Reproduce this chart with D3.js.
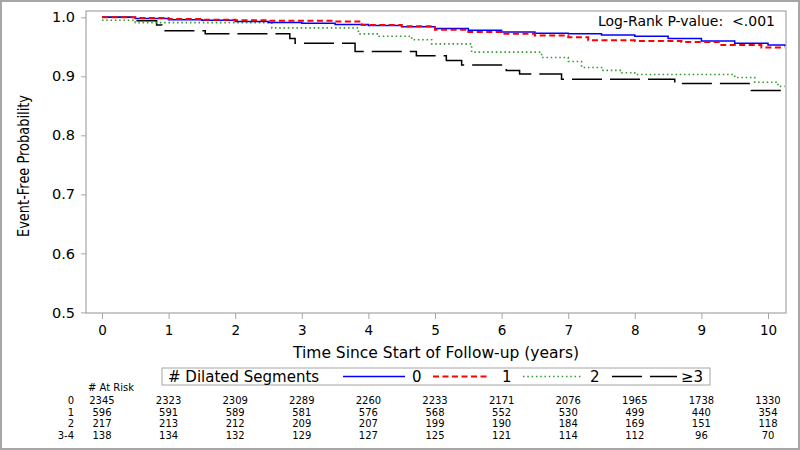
<!DOCTYPE html>
<html><head><meta charset="utf-8">
<script src="https://cdn.jsdelivr.net/npm/d3@7"></script>
<style>body{margin:0;background:#fff}svg{display:block}text{font-family:"DejaVu Sans",sans-serif;fill:#000}</style>
</head><body><svg id="c" width="800" height="450"></svg>
<script>
// ---- data ----
const groups = ["0", "1", "2", "≥3"];
const riskLabels = ["0", "1", "2", "3-4"];
const xTicks = [0,1,2,3,4,5,6,7,8,9,10];
const yTicks = [0.5,0.6,0.7,0.8,0.9,1.0];
const pValueText = "Log-Rank P-value:  <.001";

const time0 = [0,0.5,1,1.5,2,2.5,3,3.5,4,4.5,5,5.5,6,6.5,7,7.5,8,8.5,9,9.5,10,10.25];
const surv0 = [1.0,0.998,0.996,0.995,0.993,0.991,0.990,0.988,0.986,0.984,0.981,0.978,0.975,0.973,0.972,0.970,0.968,0.964,0.960,0.956,0.953,0.951];

const time1 = [0,0.5,1,1.5,2,2.5,3,3.5,3.9,4.5,5,5.5,6,6.5,7,7.3,8,8.7,9.3,9.9,10.25];
const surv1 = [1.0,0.999,0.997,0.996,0.995,0.994,0.994,0.993,0.987,0.985,0.979,0.975,0.972,0.969,0.966,0.961,0.960,0.958,0.953,0.949,0.949];

const time2 = [0,0.5,2.55,3.85,4.15,4.65,4.95,5.55,6.6,7.0,7.2,7.5,7.8,8.0,9.5,9.8,10.15,10.25];
const surv2 = [0.995,0.991,0.982,0.972,0.968,0.962,0.955,0.941,0.932,0.925,0.915,0.910,0.906,0.903,0.898,0.890,0.883,0.883];

const time3 = [0,0.5,0.82,0.9,1.55,2.82,2.9,3.8,4.72,5.17,5.4,6.07,6.27,6.9,8.6,9.75,10.25];
const surv3 = [1.0,0.994,0.987,0.977,0.972,0.964,0.956,0.942,0.935,0.927,0.919,0.910,0.904,0.895,0.888,0.876,0.876];

const atRisk0 = [2345,2323,2309,2289,2260,2233,2171,2076,1965,1738,1330];
const atRisk1 = [596,591,589,581,576,568,552,530,499,440,354];
const atRisk2 = [217,213,212,209,207,199,190,184,169,151,118];
const atRisk3 = [138,134,132,129,127,125,121,114,112,96,70];

const colors = ["#0000ff","#ff0000","#2e9a2e","#000000"];
const dashes = [null,"6,3.5","1.5,2.8","30,8"];
const widths = [1.5,2,1.6,1.5];

// ---- chart ----
const svg = d3.select("#c");
const frame = {l:86, r:786, t:11, b:313};
const x = d3.scaleLinear().domain([-0.24,10.27]).range([frame.l, frame.r]);
const y = d3.scaleLinear().domain([0.5 - (313-307)/580*0.1, 1.0]).range([313, 17.3]);

svg.append("rect").attr("x",1).attr("y",1).attr("width",798).attr("height",448)
  .attr("fill","none").attr("stroke","#a6a6a6").attr("stroke-width",2);
svg.append("rect").attr("x",frame.l).attr("y",frame.t).attr("width",frame.r-frame.l).attr("height",frame.b-frame.t)
  .attr("fill","none").attr("stroke","#a6a6a6").attr("stroke-width",1.2);

const yAxis = svg.append("g").attr("transform",`translate(${frame.l},0)`)
  .call(d3.axisLeft(y).tickValues(yTicks).tickFormat(d3.format(".1f")).tickSize(5).tickPadding(6));
const xAxis = svg.append("g").attr("transform",`translate(0,${frame.b})`)
  .call(d3.axisBottom(x).tickValues(xTicks).tickSize(6).tickPadding(6));
[yAxis,xAxis].forEach(a=>{
  a.select(".domain").remove();
  a.selectAll("line").attr("stroke","#a6a6a6");
  a.selectAll("text").attr("font-family","DejaVu Sans").attr("fill","#000");
});
yAxis.selectAll("text").attr("font-size",14.5);
xAxis.selectAll("text").attr("font-size",13.5);

svg.append("text").attr("x",436).attr("y",358).attr("text-anchor","middle").attr("font-size",15.5)
  .text("Time Since Start of Follow-up (years)");
svg.append("text").attr("transform","translate(29,166) rotate(-90)").attr("text-anchor","middle")
  .attr("font-size",15.5).attr("font-family","Liberation Sans, Arial, sans-serif")
  .attr("textLength",142).attr("lengthAdjust","spacingAndGlyphs")
  .text("Event-Free Probability");
svg.append("text").attr("x",775).attr("y",26).attr("text-anchor","end").attr("font-size",14)
  .style("white-space","pre").text(pValueText);

const series = [[time0,surv0],[time1,surv1],[time2,surv2],[time3,surv3]];
const line = d3.line().x(d=>x(d[0])).y(d=>y(d[1])).curve(d3.curveStepAfter);
const plotG = svg.append("g");
[3,2,0,1].forEach(i=>{
  const [t,s] = series[i];
  plotG.append("path").datum(t.map((v,k)=>[v,s[k]]))
    .attr("d",line).attr("fill","none").attr("stroke",colors[i])
    .attr("stroke-width",widths[i]).attr("stroke-dasharray",dashes[i]);
});

// ---- legend ----
const lg = svg.append("g");
lg.append("rect").attr("x",162).attr("y",368).attr("width",548).attr("height",17)
  .attr("fill","none").attr("stroke","#a6a6a6");
lg.append("text").attr("x",168).attr("y",382).attr("font-size",15).text("# Dilated Segments");
const legItems = [[343,405,412],[433,490,502],[523,582,590],[612,677,681]];
legItems.forEach((p,i)=>{
  lg.append("line").attr("x1",p[0]).attr("x2",p[1]).attr("y1",376.5).attr("y2",376.5)
    .attr("stroke",colors[i]).attr("stroke-width",widths[i]).attr("stroke-dasharray",dashes[i]);
  lg.append("text").attr("x",p[2]).attr("y",382).attr("font-size",15).text(groups[i]);
});

// ---- at risk table ----
const rt = svg.append("g");
const fs = 10, rowStep = 11.7, firstBase = 404;
rt.append("text").attr("x",88).attr("y",391).attr("font-size",fs).text("# At Risk");
const riskRows = [atRisk0,atRisk1,atRisk2,atRisk3];
riskLabels.forEach((l,r)=>rt.append("text").attr("font-size",fs).attr("text-anchor","end")
  .attr("x",74).attr("y",firstBase+r*rowStep).text(l));
riskRows.forEach((row,r)=>{
  row.forEach((v,k)=>rt.append("text").attr("font-size",fs).attr("text-anchor","middle")
    .attr("x",x(xTicks[k])).attr("y",firstBase+r*rowStep).text(v));
});
</script></body></html>
